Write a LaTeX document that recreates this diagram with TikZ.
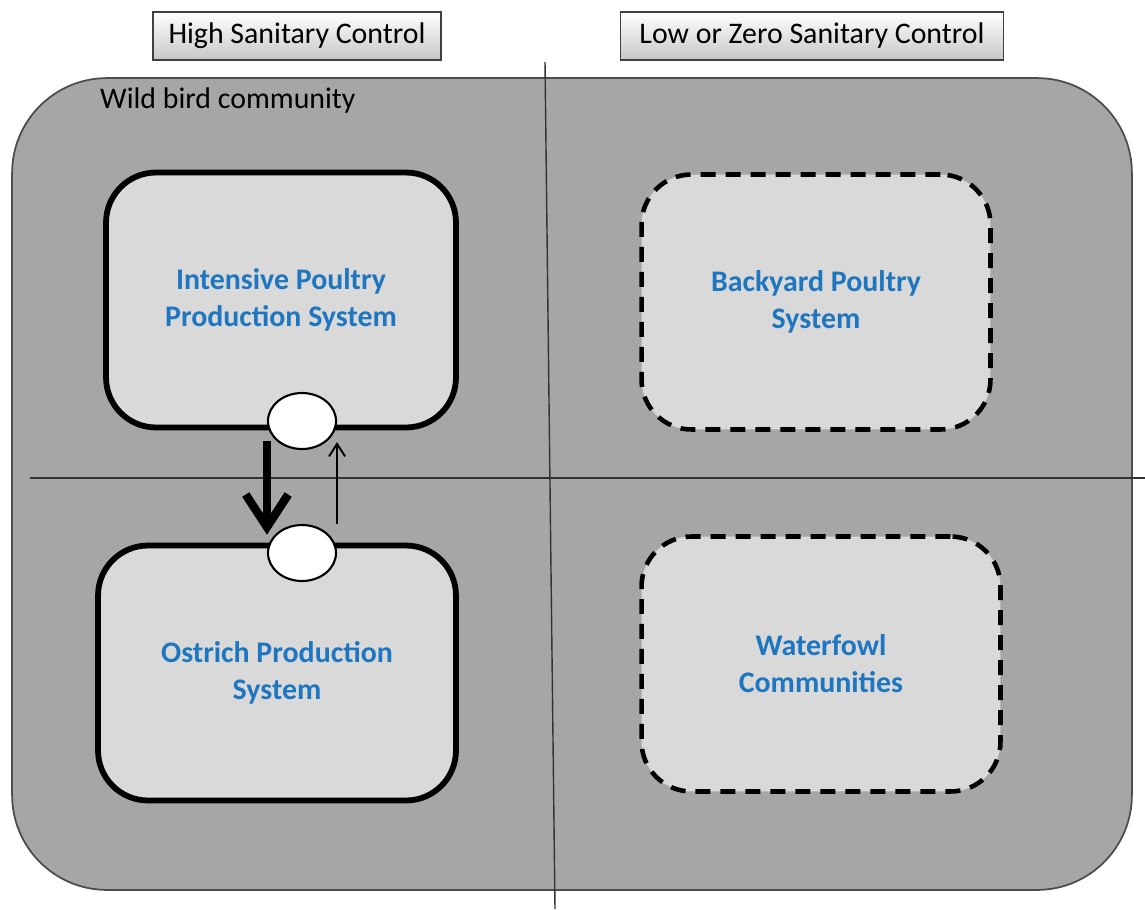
\documentclass[tikz,border=0pt]{standalone}
\usepackage{fontspec}
\setmainfont{Carlito}
\usetikzlibrary{arrows.meta, positioning, calc, shapes.geometric}
\definecolor{sysblue}{RGB}{30,118,192}
\definecolor{wildgray}{RGB}{166,166,166}
\definecolor{boxgray}{RGB}{217,217,217}

\begin{document}
\begin{tikzpicture}[
  x=0.02cm, y=-0.02cm,
  font=\fontsize{17}{21}\selectfont,
  header/.style={draw=black!75, line width=0.8pt, top color=white, bottom color=black!22, minimum height=0.96cm, inner sep=0pt},
  community/.style={draw=black!70, line width=1pt, fill=wildgray, rounded corners=1.9cm, minimum width=22.4cm, minimum height=16.24cm},
  system/.style={rounded corners=1cm, fill=boxgray, align=center, minimum height=5.1cm, text=sysblue, font=\fontsize{17}{21}\selectfont\bfseries},
  strict/.style={system, draw=black, line width=3.3pt},
  loose/.style={system, draw=black, dash pattern=on 0.3cm off 0.2cm, line width=2.6pt},
  gate/.style={draw, ellipse, fill=white, line width=1.2pt, minimum width=1.36cm, minimum height=1.12cm, inner sep=0pt},
  bigflow/.style={-{Straight Barb[length=6.5mm, width=8.5mm]}, line width=4.8pt},
  thinflow/.style={-{Straight Barb[length=2.5mm, width=3.2mm]}, line width=1.1pt},
  divider/.style={black!80, line width=0.8pt},
]
  \useasboundingbox (0,0) rectangle (1145,909);

  % Sanitary control headers
  \node[header, minimum width=5.76cm] (high) at (297,36) {High Sanitary Control};
  \node[header, minimum width=7.66cm] (low) at (812,36) {Low or Zero Sanitary Control};

  % Wild bird background and quadrant lines
  \node[community] (wild) at (572,484) {};
  \node[anchor=west] (wildlbl) at (94,101) {Wild bird community};
  \draw[divider] (545,62) -- (555,909);
  \draw[divider] (30,478) -- (1145,478);

  % Production systems
  \node[strict, minimum width=7.0cm] (intensive) at (281,300) {Intensive Poultry\\Production System};
  \node[strict, minimum width=7.16cm] (ostrich) at (277,673) {Ostrich Production\\System};
  \node[loose, minimum width=6.98cm] (backyard) at (816,302) {Backyard Poultry\\System};
  \node[loose, minimum width=7.18cm] (waterfowl) at (821,664) {Waterfowl\\Communities};

  % Gates between the two systems
  \node[gate] (ipgate) at (302,421) {};
  \node[gate] (osgate) at (302,553) {};

  \draw[bigflow, shorten <=6pt, shorten >=4.5pt] (ipgate.west |- intensive.south) -- (ipgate.west |- ostrich.north);
  \draw[thinflow, shorten >=12pt] (osgate.north -| ipgate.east) -- (ipgate.east);
\end{tikzpicture}
\end{document}
